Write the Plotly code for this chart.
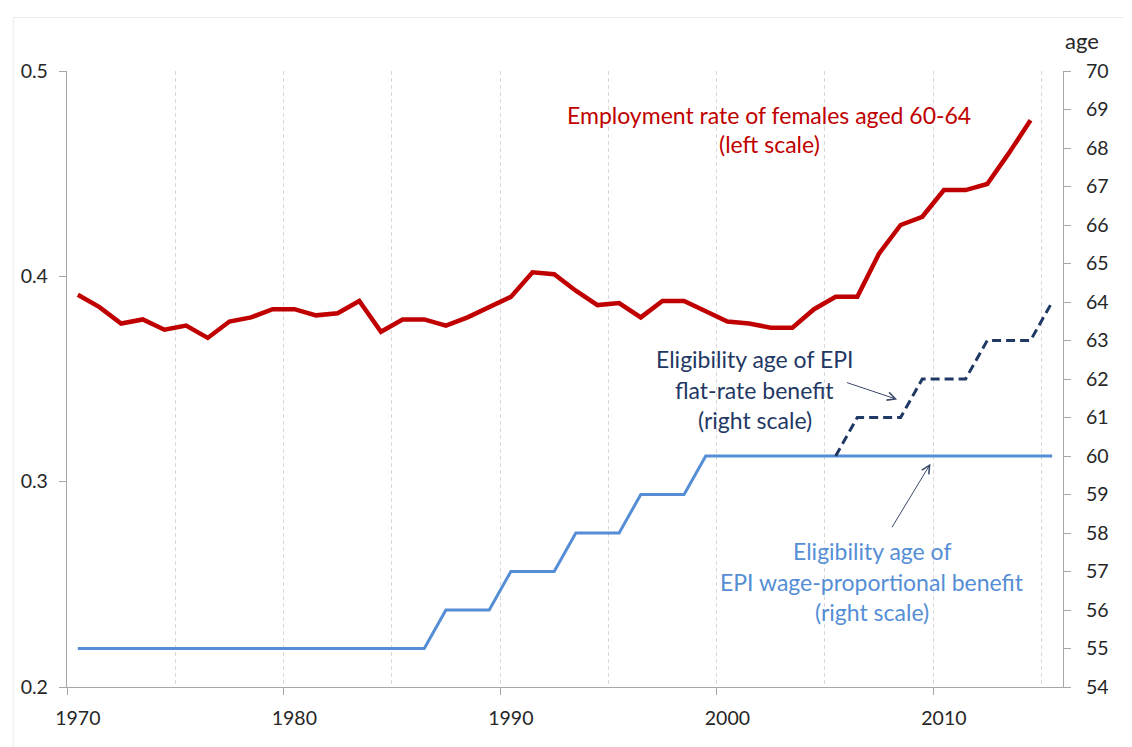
import plotly.graph_objects as go

# ---------------- data ----------------
years_emp = list(range(1970, 2015))
emp_rate_f6064 = [0.391, 0.385, 0.377, 0.379, 0.374, 0.376, 0.370, 0.378, 0.380, 0.384,
                  0.384, 0.381, 0.382, 0.388, 0.373, 0.379, 0.379, 0.376, 0.380, 0.385,
                  0.390, 0.402, 0.401, 0.393, 0.386, 0.387, 0.380, 0.388, 0.388, 0.383,
                  0.378, 0.377, 0.375, 0.375, 0.384, 0.390, 0.390, 0.411, 0.425, 0.429,
                  0.442, 0.442, 0.445, 0.460, 0.476]

years_wage = list(range(1970, 2016))
age_wage_prop = [55, 55, 55, 55, 55, 55, 55, 55, 55, 55,
                 55, 55, 55, 55, 55, 55, 55, 56, 56, 56,
                 57, 57, 57, 58, 58, 58, 59, 59, 59, 60,
                 60, 60, 60, 60, 60, 60, 60, 60, 60, 60,
                 60, 60, 60, 60, 60, 60]

years_flat = list(range(2005, 2016))
age_flat_rate = [60, 61, 61, 61, 62, 62, 62, 63, 63, 63, 64]

label_years = [1970, 1980, 1990, 2000, 2010]
label_text = ["1970", "1980", "1990", "2000", "2010"]
grid_bounds = [1974.5, 1979.5, 1984.5, 1989.5, 1994.5, 1999.5, 2004.5, 2009.5, 2014.5]
tick_bounds = [1969.5, 1979.5, 1989.5, 1999.5, 2009.5]
left_ticks = [0.2, 0.3, 0.4, 0.5]
right_ticks = list(range(54, 71))

# ---------------- style ----------------
FONT = "Lato"
RED = "#C00000"
NAVY = "#1F3864"
BLUE = "#558ED5"
AXIS = "#A6A6A6"
TXT = "#262626"
XR = [1969.5, 2015.5]
TICKSIZE = 19.5

fig = go.Figure()
fig.add_trace(go.Scatter(x=years_wage, y=age_wage_prop, yaxis="y2", mode="lines",
                         line=dict(color=BLUE, width=3), showlegend=False, hoverinfo="skip"))
fig.add_trace(go.Scatter(x=years_flat, y=age_flat_rate, yaxis="y2", mode="lines",
                         line=dict(color=NAVY, width=3, dash="9px,5px"), showlegend=False,
                         hoverinfo="skip"))
fig.add_trace(go.Scatter(x=years_emp, y=emp_rate_f6064, yaxis="y", mode="lines",
                         line=dict(color=RED, width=4.5), showlegend=False, hoverinfo="skip"))
# invisible trace to materialise the tick-mark overlay axis
fig.add_trace(go.Scatter(x=[None], y=[None], xaxis="x2", yaxis="y", mode="lines",
                         showlegend=False, hoverinfo="skip"))

annos = []
def txt(s, x, y, color):
    annos.append(dict(text=s, x=x, y=y, xref="x", yref="y2", showarrow=False,
                      xanchor="center", yanchor="middle",
                      font=dict(family=FONT, size=23, color=color)))

txt("Employment rate of females aged 60-64", 2001.94, 68.85, RED)
txt("(left scale)", 2001.94, 68.11, RED)
txt("Eligibility age of EPI", 2001.26, 62.51, NAVY)
txt("flat-rate benefit", 2001.26, 61.71, NAVY)
txt("(right scale)", 2001.26, 60.94, NAVY)
txt("Eligibility age of", 2006.69, 57.54, BLUE)
txt("EPI wage-proportional benefit", 2006.69, 56.73, BLUE)
txt("(right scale)", 2006.69, 55.96, BLUE)

for (hx, hy, tx, ty) in [(2007.84, 61.47, 2005.45, 61.92), (2009.38, 59.80, 2007.56, 58.11)]:
    annos.append(dict(text="", x=hx, y=hy, xref="x", yref="y2", ax=tx, ay=ty,
                      axref="x", ayref="y2", showarrow=True, arrowhead=5,
                      arrowsize=1.6, arrowwidth=1, arrowcolor="#3B4A6B"))

annos.append(dict(text="age", x=1.0194, y=1.05, xref="paper", yref="paper",
                  showarrow=False, xanchor="center", yanchor="middle",
                  font=dict(family=FONT, size=22, color=TXT)))

fig.update_layout(
    width=1124, height=739,
    margin=dict(l=59, r=69, t=63, b=60),
    paper_bgcolor="white", plot_bgcolor="white",
    font=dict(family=FONT, size=TICKSIZE, color=TXT),
    annotations=annos,
    xaxis=dict(type="linear", range=XR, tickmode="array", tickvals=label_years,
               ticktext=label_text, ticks="", showgrid=False, zeroline=False,
               showline=True, linecolor=AXIS, linewidth=1.3,
               ticklabelstandoff=13,
               tickfont=dict(family=FONT, size=TICKSIZE, color=TXT),
               minor=dict(tickmode="array", tickvals=grid_bounds, showgrid=True,
                          gridcolor="#D9D9D9", griddash="4px,3px", gridwidth=1,
                          ticks="")),
    xaxis2=dict(type="linear", range=XR, overlaying="x", anchor="y", side="bottom",
                tickmode="array", tickvals=tick_bounds, ticks="outside", ticklen=7,
                tickcolor=AXIS, tickwidth=1.3, showticklabels=False, showgrid=False,
                zeroline=False, showline=False),
    yaxis=dict(range=[0.2, 0.5], tickmode="array", tickvals=left_ticks,
               tickformat=".1f", ticks="outside", ticklen=7, tickcolor=AXIS,
               tickwidth=1.3, showgrid=False, zeroline=False, showline=True,
               linecolor=AXIS, linewidth=1.3, ticklabelstandoff=7,
               tickfont=dict(family=FONT, size=TICKSIZE, color=TXT)),
    yaxis2=dict(range=[54, 70], tickmode="array", tickvals=right_ticks,
                overlaying="y", side="right", anchor="x", ticks="outside", ticklen=7,
                tickcolor=AXIS, tickwidth=1.3, showgrid=False, zeroline=False,
                showline=True, linecolor=AXIS, linewidth=1.3, ticklabelstandoff=11,
                tickfont=dict(family=FONT, size=TICKSIZE, color=TXT)),
    shapes=[dict(type="rect", xref="paper", yref="paper", x0=-0.054, y0=-0.2,
                 x1=1.2, y1=1.087, line=dict(color="#EBEBEB", width=1),
                 layer="below")],
)

fig.write_html("out.html")
